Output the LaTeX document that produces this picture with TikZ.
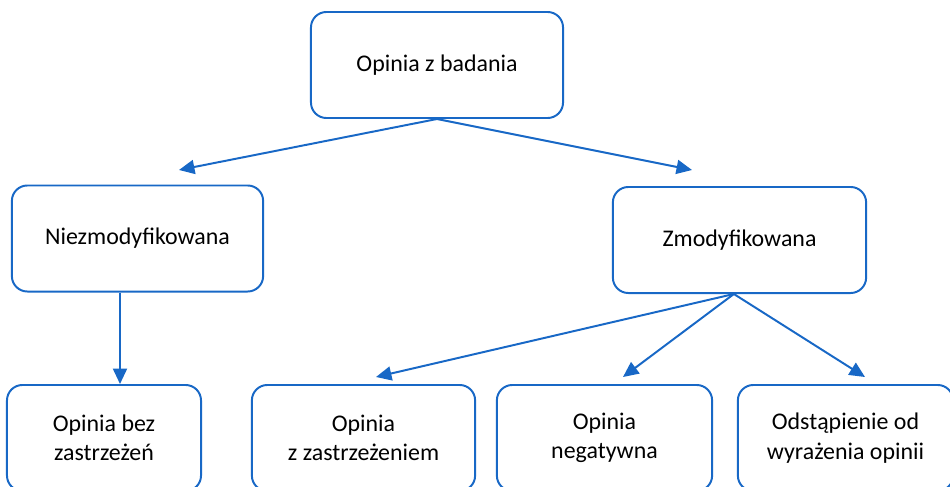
\documentclass[tikz,border=0pt]{standalone}
\usepackage{fontspec}
\setmainfont{Carlito}
\usetikzlibrary{arrows.meta}
\definecolor{ramka}{RGB}{24,104,198}
\tikzset{
    box/.style={draw=ramka, line width=1.4pt, rounded corners=11pt, align=center,
        minimum height=2.65cm, inner sep=0pt, font=\fontsize{17}{21}\selectfont},
    strz/.style={draw=ramka, line width=1.4pt, -{Triangle[length=11pt,width=10pt]}}
}

\begin{document}
\begin{tikzpicture}[x=0.025cm, y=-0.025cm]
    \clip (0,0) rectangle (950,487);
    % gorny poziom
    \node[box, minimum width=6.3cm] (opinia) at (437,65) {Opinia z badania};
    % drugi poziom
    \node[box, minimum width=6.28cm] (niezmod) at (137.5,238.5) {Niezmodyfikowana};
    \node[box, minimum width=6.33cm] (zmod) at (739.5,240) {Zmodyfikowana};
    % dolny poziom
    \node[box, minimum width=4.85cm] (bez) at (104,438) {Opinia bez\\zastrzeżeń};
    \node[box, minimum width=5.58cm] (zastrz) at (363.5,438) {Opinia\\z zastrzeżeniem};
    \node[box, minimum width=5.38cm] (negat) at (604.5,438) {Opinia\\negatywna};
    \node[box, minimum width=5.38cm] (odstap) at (845.5,438) {Odstąpienie od\\wyrażenia opinii};
    % konce strzalek
    \coordinate (k1) at (179,170);
    \coordinate (k2) at (692,170);
    \coordinate (k3) at (120,384);
    \coordinate (k4) at (376,377);
    \coordinate (k5) at (623,377);
    \coordinate (k6) at (865,377);
    \draw[strz] (opinia.south) -- (k1);
    \draw[strz] (opinia.south) -- (k2);
    \draw[strz] (niezmod.south -| k3) -- (k3);
    \draw[strz] ([xshift=-4pt]zmod.south) -- (k4);
    \draw[strz] ([xshift=-4pt]zmod.south) -- (k5);
    \draw[strz] ([xshift=-4pt]zmod.south) -- (k6);
\end{tikzpicture}
\end{document}
